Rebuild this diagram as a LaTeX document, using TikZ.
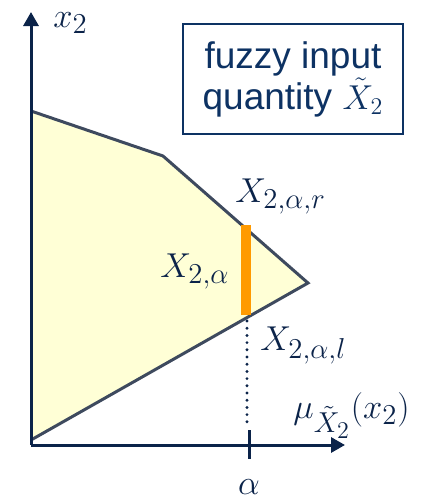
\documentclass[tikz,border=0pt]{standalone}
\usepackage{fontspec}
\setmainfont{Liberation Sans}
\DeclareMathSizes{17}{17}{14.5}{12}
\DeclareMathSizes{18}{18}{15.5}{12.5}
\usetikzlibrary{arrows.meta}
\definecolor{navy}{HTML}{0B2349}
\definecolor{textblue}{HTML}{0D3263}
\definecolor{edgegray}{HTML}{3E4A5E}
\definecolor{paleyellow}{HTML}{FFFFD6}
\definecolor{cutorange}{HTML}{FF9A00}
\tikzset{
  axis/.style={-{Triangle[length=7pt,width=7.5pt]},line width=1.5pt,color=navy},
  region/.style={draw=edgegray,line width=1.5pt,line join=miter},
  cut/.style={line width=5pt,color=cutorange},
  lab/.style={inner sep=0pt,anchor=base west,color=navy,font=\fontsize{17}{20}\selectfont},
}
\begin{document}
\begin{tikzpicture}[x=0.5pt,y=-0.5pt]
\useasboundingbox (0,0) rectangle (434,498);
% corners of the fuzzy region
\coordinate (o) at (31,445);
\coordinate (p0) at (31,440);
\coordinate (p1) at (308,283);
\coordinate (p2) at (163,156);
\coordinate (p3) at (31,111);
\fill[paleyellow] (p0) -- (p1) -- (p2) -- (p3) -- cycle;
\draw[region] (p3) -- (p2) -- (p1) -- (p0);
% alpha cut
\coordinate (cl) at (246,315);
\coordinate (cr) at (246,225);
\draw[cut] (cl) -- (cr);
\coordinate (dt) at (247,321);
\coordinate (db) at (247,428);
\draw[navy,line width=1.6pt,dash pattern=on 0pt off 3.6pt,line cap=round] (dt) -- (db);
% axes
\coordinate (xe) at (345,445);
\coordinate (ye) at (31,12);
\draw[axis] (o) -- (xe);
\draw[axis] (o) -- (ye);
\coordinate (tt) at (249,430);
\coordinate (tb) at (249,459);
\draw[navy,line width=1.5pt] (tt) -- (tb);
% labels
\node[lab] (ylab) at (53,27) {$x_2$};
\node[lab] (rlab) at (235,202) {$X_{2,\alpha,r}$};
\node[lab] (clab) at (160,277) {$X_{2,\alpha}$};
\node[lab] (llab) at (260,350) {$X_{2,\alpha,l}$};
\node[lab,font=\fontsize{18}{20}\selectfont] (xlab) at (293,418) {$\mu_{\tilde{X}_2}(x_2)$};
\node[lab,anchor=north] (alab) at (249,479) {$\alpha$};
\node[draw=textblue,line width=1pt,minimum width=110pt,minimum height=55pt,inner sep=0pt,
      align=center,text=textblue,font=\fontsize{18.5}{20.5}\selectfont] (box) at (293,79)
  {fuzzy input\\quantity $\tilde{X}_2$};
\end{tikzpicture}
\end{document}
